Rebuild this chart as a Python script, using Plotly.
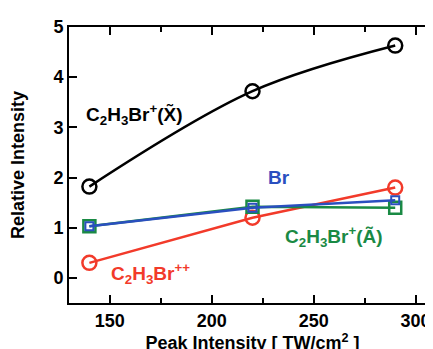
import plotly.graph_objects as go

x_vals = [140, 220, 290]
x_state = [1.82, 3.72, 4.63]      # C2H3Br+(X~)
dication = [0.30, 1.20, 1.80]     # C2H3Br++
br = [1.03, 1.40, 1.55]           # Br
a_state = [1.03, 1.42, 1.40]      # C2H3Br+(A~)

labels = ["C<sub>2</sub>H<sub>3</sub>Br<sup>+</sup>(X\u0303)",
          "Br",
          "C<sub>2</sub>H<sub>3</sub>Br<sup>+</sup>(A\u0303)",
          "C<sub>2</sub>H<sub>3</sub>Br<sup>++</sup>"]
label_x = [162, 233, 260, 170]
label_y = [3.26, 2.0, 0.82, 0.08]
colors = ["#000000", "#2a4fbf", "#1a8a44", "#f23a2a"]

FONT = "Liberation Sans, Arial"

fig = go.Figure()
fig.add_trace(go.Scatter(x=x_vals, y=x_state, mode="lines+markers", line=dict(color=colors[0], width=2.5, shape="spline"),
                         marker=dict(symbol="circle-open", size=14, line=dict(width=2.5, color=colors[0]))))
fig.add_trace(go.Scatter(x=x_vals, y=dication, mode="lines+markers", line=dict(color=colors[3], width=2.5),
                         marker=dict(symbol="circle-open", size=14, line=dict(width=2.5, color=colors[3]))))
fig.add_trace(go.Scatter(x=x_vals, y=a_state, mode="lines+markers", line=dict(color=colors[2], width=2.5),
                         marker=dict(symbol="square-open", size=12, line=dict(width=2.5, color=colors[2]))))
fig.add_trace(go.Scatter(x=x_vals, y=br, mode="lines+markers", line=dict(color=colors[1], width=2.5),
                         marker=dict(symbol="square-open", size=8, line=dict(width=2, color=colors[1]))))

for t, xx, yy, c in zip(labels, label_x, label_y, colors):
    fig.add_annotation(x=xx, y=yy, text="<b>" + t + "</b>", showarrow=False,
                       font=dict(size=19, color=c, family=FONT))

axis_common = dict(showline=True, linecolor="black", linewidth=2, mirror="ticks",
                   ticks="inside", ticklen=8, tickwidth=2, tickcolor="black",
                   showgrid=False, zeroline=False,
                   tickfont=dict(size=18, color="black", family=FONT, weight="bold"))
fig.update_xaxes(range=[130, 310], tickvals=[150, 200, 250, 300],
                 minor=dict(tickvals=[175, 225, 275], ticks="inside", ticklen=5, tickwidth=2, tickcolor="black"),
                 title=dict(text="<b>Peak Intensity [ TW/cm<sup>2</sup> ]</b>", standoff=0,
                            font=dict(size=18, color="black", family=FONT)),
                 **axis_common)
fig.update_yaxes(range=[-0.5, 5], tickvals=[0, 1, 2, 3, 4, 5],
                 title=dict(text="<b>Relative Intensity</b>", standoff=24,
                            font=dict(size=18, color="black", family=FONT)),
                 **axis_common)
fig.update_layout(width=433, height=349, margin=dict(l=61, r=3, t=19, b=54),
                  showlegend=False, plot_bgcolor="white", paper_bgcolor="white")
fig.write_html("out.html")
